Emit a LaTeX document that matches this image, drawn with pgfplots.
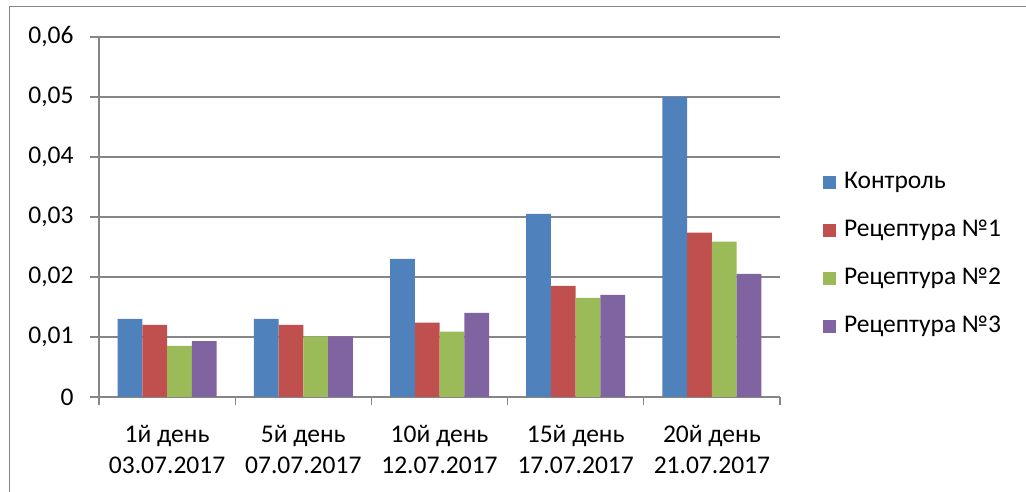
\documentclass[border=0pt]{standalone}
\usepackage{pgfplots}
\pgfplotsset{compat=1.18}
\usepackage{fontspec}
\setmainfont{Carlito}
\definecolor{cblue}{HTML}{4F81BD}
\definecolor{cred}{HTML}{C0504D}
\definecolor{cgreen}{HTML}{9BBB59}
\definecolor{cpurple}{HTML}{8064A2}
\definecolor{axgray}{HTML}{868686}
\newcommand{\fsz}{\fontsize{25.5bp}{31bp}\selectfont}
\begin{document}
\begin{tikzpicture}
\useasboundingbox (0,0) rectangle (1026bp,492bp);
\fill[white] (0,0) rectangle (1026bp,492bp);
\draw[axgray, line width=1bp] (9bp,0) -- (9bp,485bp) -- (1026bp,485bp);
\begin{axis}[
  at={(99bp,95bp)}, anchor=south west,
  scale only axis, width=681bp, height=360bp,
  ybar=0pt, bar width=24.75bp,
  xmin=-0.5, xmax=4.5, ymin=0, ymax=0.06,
  scaled y ticks=false,
  axis x line*=bottom, axis y line*=left,
  axis line style={draw=axgray, line width=1.3bp, -},
  ytick={0,0.01,0.02,0.03,0.04,0.05,0.06},
  yticklabels={0,{0,01},{0,02},{0,03},{0,04},{0,05},{0,06}},
  ymajorgrids, grid style={draw=axgray, line width=1.5bp},
  xtick={0,1,2,3,4},
  xticklabels={{1й день\\03.07.2017},{5й день\\07.07.2017},{10й день\\12.07.2017},{15й день\\17.07.2017},{20й день\\21.07.2017}},
  xticklabel style={align=center, font=\fsz, yshift=-16bp},
  yticklabel style={font=\fsz, xshift=-13bp},
  minor xtick={-0.5,0.5,1.5,2.5,3.5,4.5},
  tick align=outside,
  major tick length=9bp, minor tick length=8bp,
  major x tick style={draw=none},
  minor x tick style={draw=axgray, line width=1.3bp},
  ytick style={draw=axgray, line width=1.3bp},
  /pgf/number format/assume math mode=true,
  legend style={at={(axis description cs:1.063,0.628)}, anchor=north west,
    draw=none, fill=none, inner sep=0pt, font=\fsz, row sep=26bp, column sep=8bp,
    nodes={inner sep=0pt, text height=17bp, text depth=5bp}},
  legend cell align=left,
  legend image code/.code={\fill[#1] (0bp,-6.5bp) rectangle (13bp,6.5bp);},
]
\addplot[fill=cblue, draw=none] coordinates {(0,0.013) (1,0.013) (2,0.023) (3,0.0305) (4,0.050)};
\addplot[fill=cred, draw=none] coordinates {(0,0.012) (1,0.012) (2,0.0124) (3,0.0185) (4,0.0274)};
\addplot[fill=cgreen, draw=none] coordinates {(0,0.0085) (1,0.0101) (2,0.0109) (3,0.0165) (4,0.0259)};
\addplot[fill=cpurple, draw=none] coordinates {(0,0.0093) (1,0.0101) (2,0.0140) (3,0.0170) (4,0.0205)};
\legend{Контроль,Рецептура №1,Рецептура №2,Рецептура №3}
\end{axis}
\end{tikzpicture}
\end{document}
